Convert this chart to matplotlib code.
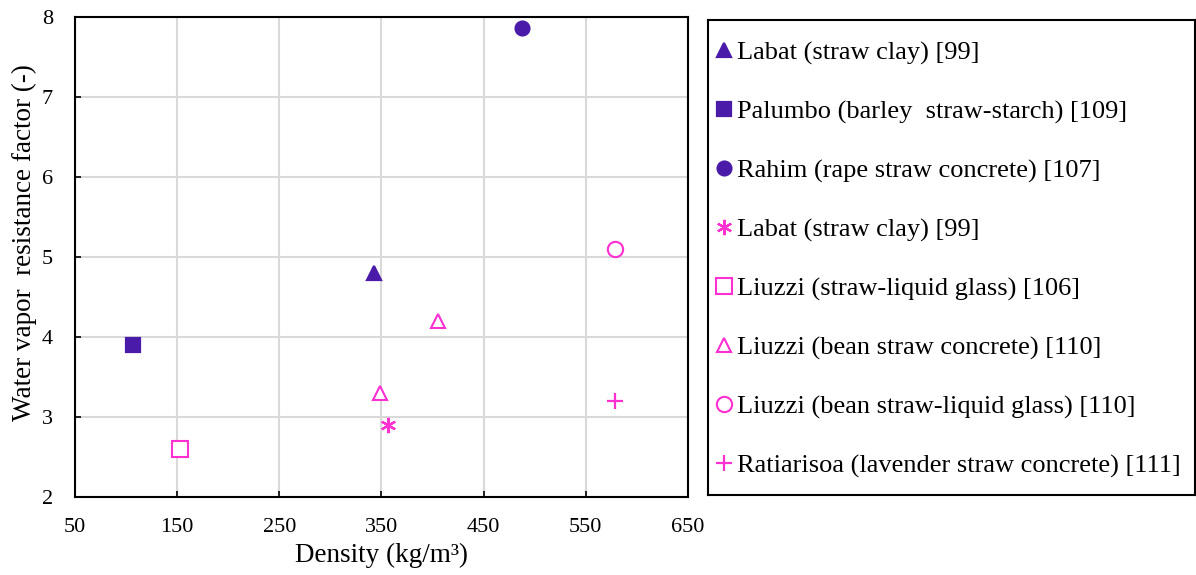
"""
Water vapour resistance factor vs density for straw-based materials
"""

import matplotlib
matplotlib.use("Agg")
import matplotlib.pyplot as plt

plt.rcParams['font.family'] = ['Liberation Serif', 'DejaVu Serif']

# data
labels = [
    'Labat (straw clay) [99]',
    'Palumbo (barley  straw-starch) [109]',
    'Rahim (rape straw concrete) [107]',
    'Labat (straw clay) [99]',
    'Liuzzi (straw-liquid glass) [106]',
    'Liuzzi (bean straw concrete) [110]',
    'Liuzzi (bean straw-liquid glass) [110]',
    'Ratiarisoa (lavender straw concrete) [111]',
]
density = [[343], [107], [488], [356], [153], [349, 405], [579], [579]]
mu = [[4.8], [3.9], [7.86], [2.9], [2.6], [3.3, 4.2], [5.1], [3.2]]

purple = '#4a1aa8'
magenta = '#ff2fd2'
colors = [purple, purple, purple, magenta, magenta, magenta, magenta, magenta]
markers = ['^', 's', 'o', (6, 2, 0), 's', '^', 'o', '+']
filled = [True, True, True, True, False, False, False, True]
sizes = [10, 10, 10, 11, 11, 10, 11, 11]

x_ticks = [50, 150, 250, 350, 450, 550, 650]
y_ticks = [2, 3, 4, 5, 6, 7, 8]

fig = plt.figure(figsize=(11.96, 5.75), dpi=100)
ax = fig.add_axes([0.0627, 0.1357, 0.5125, 0.8343])

handles = []
for i in range(len(labels)):
    if filled[i]:
        h, = ax.plot(density[i], mu[i], linestyle='none', marker=markers[i],
                     markersize=sizes[i], color=colors[i],
                     markeredgewidth=1.6, label=labels[i])
    else:
        h, = ax.plot(density[i], mu[i], linestyle='none', marker=markers[i],
                     markersize=sizes[i], markerfacecolor='white',
                     markeredgecolor=colors[i], markeredgewidth=1.5,
                     label=labels[i])
    handles.append(h)

ax.set_xlim(50, 650)
ax.set_ylim(2, 8)
ax.set_xticks(x_ticks)
ax.set_yticks(y_ticks)
ax.grid(True, color='#d9d9d9', linewidth=1.5)
ax.set_axisbelow(True)
for s in ax.spines.values():
    s.set_linewidth(1.5)
ax.tick_params(direction='in', labelsize=16, length=4, width=1.2)
ax.tick_params(axis='x', pad=15)
ax.tick_params(axis='y', pad=16)
ax.set_xlabel('Density (kg/m³)', fontsize=19.5, labelpad=4)
ax.set_ylabel('Water vapor  resistance factor (-)', fontsize=19.5)
ax.yaxis.set_label_coords(-0.062, 0.53)

# legend box at the right
lax = fig.add_axes([0.592, 0.139, 0.407, 0.827])
lax.set_xticks([])
lax.set_yticks([])
for s in lax.spines.values():
    s.set_linewidth(1.5)
lax.legend(handles=handles, loc='upper left', bbox_to_anchor=(-0.018, 0.0, 1.0, 0.989),
           frameon=False, fontsize=19, handlelength=0.6, handletextpad=0.2,
           labelspacing=1.33, borderaxespad=0.0, borderpad=0.62, numpoints=1)

plt.savefig('out.png', dpi=100)
